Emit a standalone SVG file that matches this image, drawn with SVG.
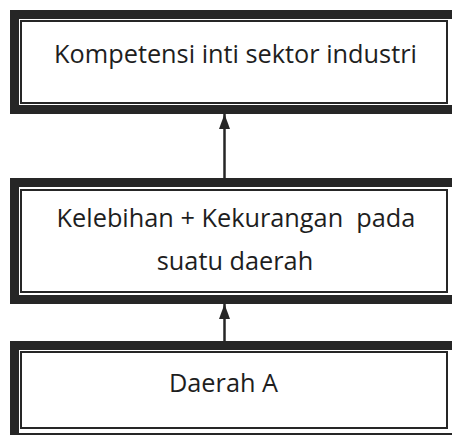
<svg xmlns="http://www.w3.org/2000/svg" width="452" height="435" viewBox="0 0 452 435">
<style>
.thick{fill:none;stroke:#262626;stroke-width:9}
.thin{fill:none;stroke:#262626;stroke-width:2}
.lbl{font-family:"Open Sans","Noto Sans",sans-serif;font-size:25.3px;fill:#1e1e1e;text-anchor:middle;white-space:pre}
.conn{stroke:#262626;stroke-width:2.5;fill:none}
</style>
<defs>
<marker id="ah" markerWidth="15" markerHeight="11" refX="15" refY="5.5" orient="auto" markerUnits="userSpaceOnUse">
<path d="M0,0 L15,5.5 L0,11 Z" fill="#262626"/>
</marker>
</defs>
<rect width="452" height="435" fill="#ffffff"/>
<g id="connectors">
<line class="conn" x1="224.5" y1="178" x2="224.5" y2="114" marker-end="url(#ah)"/>
<line class="conn" x1="224.5" y1="341" x2="224.5" y2="304" marker-end="url(#ah)"/>
</g>
<g id="node1">
<rect class="thick" x="14.5" y="14.5" width="460" height="95"/>
<rect class="thin" x="21" y="21" width="426" height="82"/>
<text class="lbl" x="235.5" y="63">Kompetensi inti sektor industri</text>
</g>
<g id="node2">
<rect class="thick" x="14.5" y="182.5" width="460" height="117"/>
<rect class="thin" x="21" y="190" width="426" height="102"/>
<text class="lbl" x="236" y="227">Kelebihan + Kekurangan  pada</text>
<text class="lbl" x="235" y="270">suatu daerah</text>
</g>
<g id="node3">
<rect class="thick" x="14.5" y="345.5" width="460" height="92"/>
<rect class="thin" x="21" y="352" width="426" height="76"/>
<text class="lbl" x="223.5" y="392">Daerah A</text>
</g>
</svg>
